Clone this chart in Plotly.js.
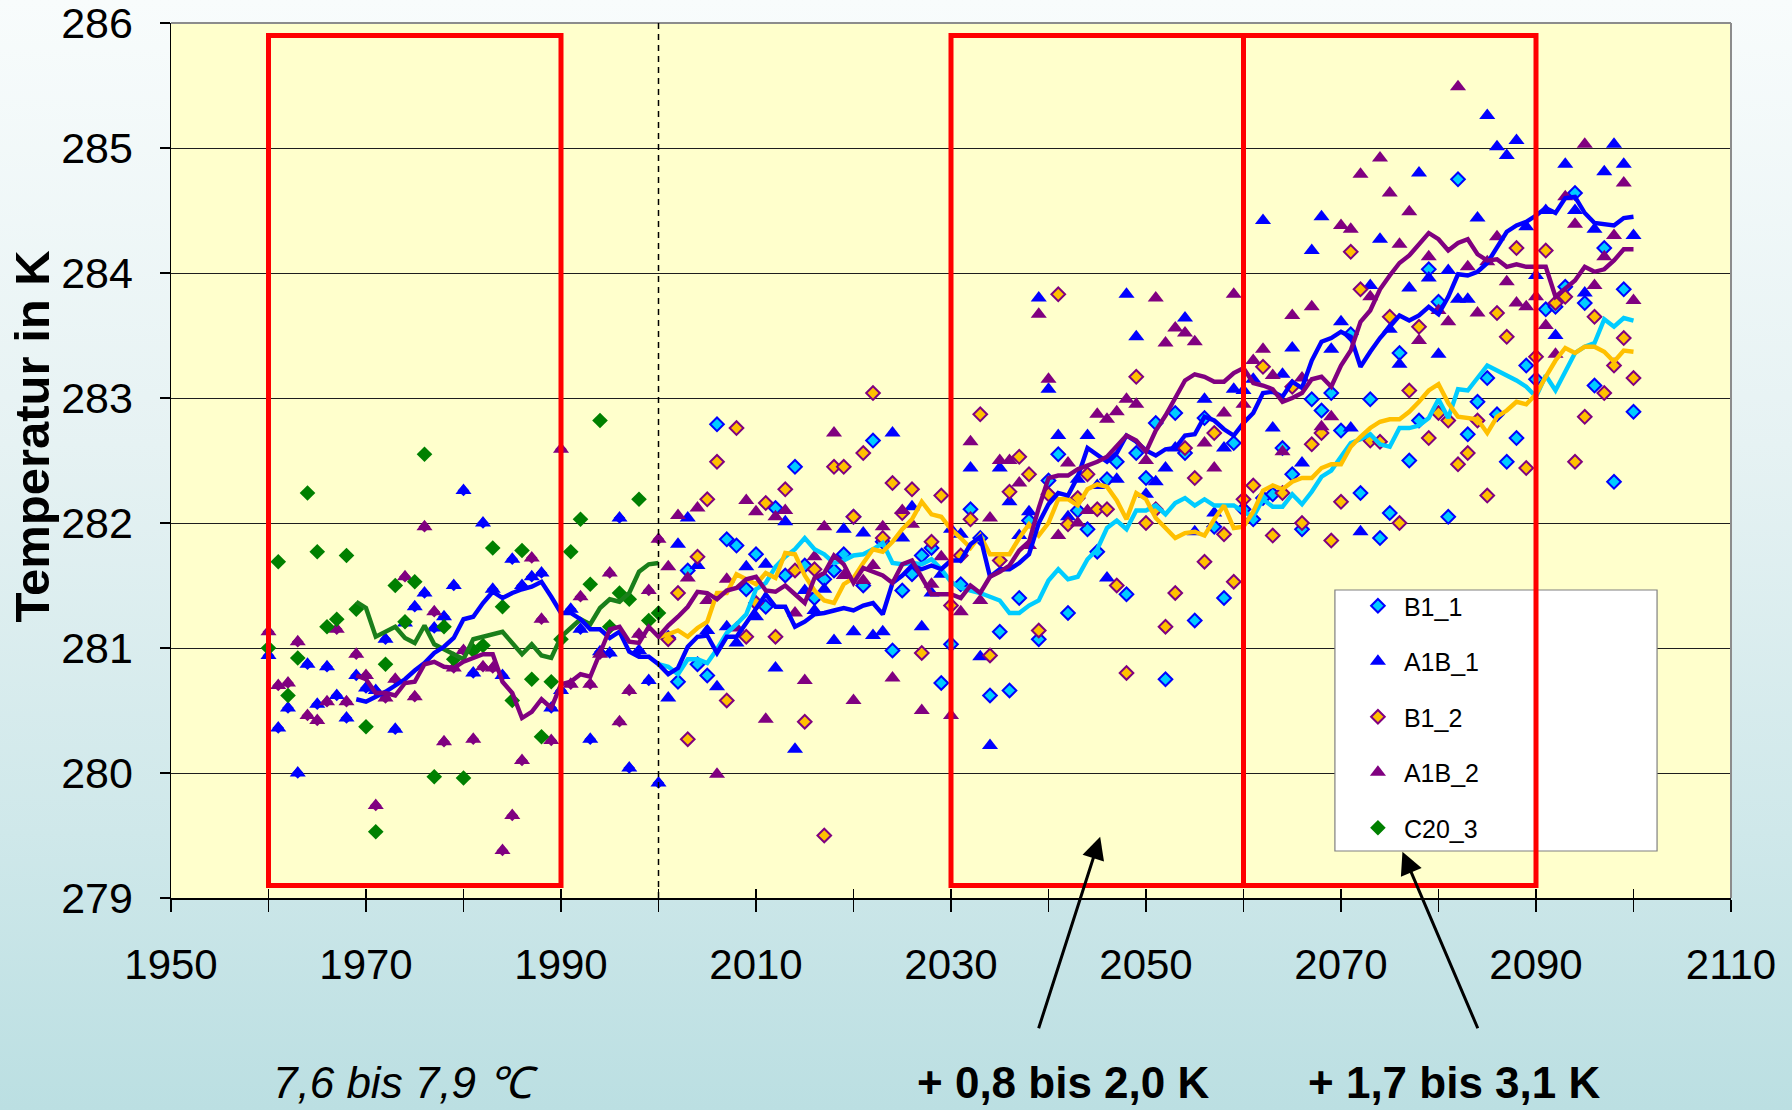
<!DOCTYPE html>
<html>
<head>
<meta charset="utf-8">
<script src="https://cdn.plot.ly/plotly-3.0.1.min.js"></script>
<style>
html,body{margin:0;padding:0;}
body{width:1792px;height:1110px;overflow:hidden;
background:linear-gradient(to bottom,#F8FCFC 0%,#E6F2F3 40%,#CFE8EA 75%,#BBDFE2 100%);}
#chart{width:1792px;height:1110px;}
</style>
</head>
<body>
<div id="chart"></div>
<script>
// ---------- data ----------
const startHist = 1960;   // first year of A1B_1 / A1B_2 / C20_3 markers
const startScen = 2001;   // first year of B1_1 / B1_2 markers
const startMeanA = 1969;  // first year of the A1B running means and C20_3 mean
const startMeanB = 2000;  // first year of the B1 running means

const c20_3 = [281.00,281.69,280.62,280.92,282.24,281.77,281.17,281.23,281.74,281.31,
280.37,279.53,280.87,281.50,281.21,281.53,282.55,279.97,281.17,280.91,
279.96,280.98,281.02,281.80,281.33,280.58,281.78,280.75,280.29,280.73,
281.07,281.77,282.03,281.51,282.82,281.17,281.44,281.39,282.19,281.22,281.28];

const c20_3_mean = [281.37,281.32,281.09,281.13,281.17,281.08,281.04,281.18,281.03,280.99,
280.95,280.91,281.07,281.09,281.11,281.13,281.04,280.95,281.03,280.94,
280.92,281.09,281.16,281.23,281.19,281.32,281.39,281.37,281.44,281.61,281.67,281.68];

const a1b_1 = [280.94,280.36,280.52,280.00,280.87,280.55,280.85,280.62,280.44,280.78,
280.68,280.66,281.07,280.35,281.20,281.33,281.44,281.16,281.25,281.50,
282.26,280.80,282.00,281.47,280.78,281.71,281.50,281.57,281.60,280.52,
280.66,281.31,281.15,280.27,280.97,280.96,282.04,280.04,280.98,280.74,
279.92,280.60,281.83,282.04,281.66,281.14,280.69,281.17,281.04,281.65,
281.25,281.67,280.84,282.01,280.19,281.46,281.30,281.47,281.06,281.95,
281.13,281.92,281.10,281.13,282.72,281.88,282.13,281.17,281.44,281.59,
281.95,281.91,282.44,280.93,280.22,282.44,282.17,281.90,282.09,283.80,
283.07,282.70,282.05,282.35,282.70,282.30,281.56,282.35,283.83,283.49,
282.23,282.33,282.44,282.60,283.64,281.93,282.99,282.08,282.60,283.07,
283.06,283.15,284.42,282.76,283.19,283.40,282.48,284.18,284.45,283.39,
283.61,282.76,281.93,283.90,284.27,283.55,283.27,283.88,284.80,283.96,
283.35,284.02,283.79,283.79,284.44,285.26,285.01,284.94,285.06,284.37,
283.98,284.50,283.50,284.87,284.50,283.84,284.35,284.81,285.03,284.87,284.30];

const a1b_2 = [281.13,280.70,280.72,281.05,280.46,280.42,280.57,281.15,280.57,280.95,
280.78,279.74,280.60,280.75,281.57,280.61,281.97,281.29,280.25,280.84,
280.98,280.27,280.85,280.84,279.38,279.66,280.10,281.72,281.23,280.26,
282.59,280.71,281.41,280.71,280.95,281.60,280.41,280.66,281.11,281.46,
281.87,281.65,282.06,281.56,282.12,281.38,279.99,281.55,281.16,282.18,
282.09,280.43,282.05,282.10,281.28,280.74,281.73,281.97,282.72,281.58,
280.58,281.54,281.66,281.97,280.76,282.10,281.99,280.50,281.51,281.73,
280.46,281.29,282.65,281.38,282.04,282.50,282.50,282.32,281.82,283.67,
283.15,281.90,282.48,282.00,282.10,282.87,282.83,282.89,282.99,282.95,
282.50,283.80,283.44,283.56,283.52,283.45,282.64,282.44,282.88,283.83,
282.95,283.30,283.39,283.18,282.57,283.66,283.16,283.73,282.77,282.85,
284.38,284.35,284.79,283.81,284.92,284.64,284.23,284.49,283.46,284.13,
283.70,283.61,285.49,284.05,283.68,284.09,284.29,283.93,283.76,283.73,
283.81,283.58,283.35,284.61,284.39,285.03,283.90,284.13,284.30,284.72,283.78];

const b1_1 = [281.08,280.73,281.62,280.87,280.78,282.79,281.87,281.82,281.47,281.75,
281.33,282.12,281.58,282.45,281.66,281.40,281.55,281.62,281.75,282.05,
281.50,282.66,281.85,280.98,281.46,281.59,281.74,281.80,280.72,281.03,
281.51,282.11,281.88,280.62,281.13,280.66,281.40,282.02,281.07,282.34,
282.55,281.28,282.10,281.95,281.77,282.35,282.49,281.43,282.56,282.36,
282.80,280.75,282.88,282.56,281.22,282.84,281.97,281.40,282.64,282.11,
282.03,282.20,282.23,282.60,282.39,281.95,282.99,282.90,283.04,282.74,
283.51,282.24,282.99,281.88,282.08,283.36,282.50,282.82,284.03,283.77,
282.05,284.75,282.71,282.97,283.16,282.87,282.49,282.68,283.26,283.15,
283.71,283.73,283.89,284.64,283.76,283.10,284.20,282.33,283.87,282.89];

const b1_2 = [281.07,281.44,280.27,281.73,282.19,282.49,280.58,282.76,281.09,281.36,
282.16,281.09,282.27,281.62,280.41,281.63,279.50,282.45,282.45,282.05,
282.56,283.04,281.88,282.32,282.08,282.27,280.96,281.85,282.22,281.34,
281.74,282.03,282.87,280.94,281.70,282.25,282.53,282.39,281.14,282.23,
283.83,281.99,282.20,282.39,282.11,282.11,281.50,280.80,283.17,282.00,
282.11,281.17,281.44,282.60,282.36,281.69,282.72,281.91,281.53,282.19,
282.30,283.25,281.90,282.24,283.09,282.00,282.63,282.72,281.86,282.17,
284.17,283.87,282.66,282.65,283.65,282.00,283.06,283.57,282.68,282.88,
282.82,282.47,282.56,282.82,282.22,283.68,283.49,284.20,282.44,283.33,
284.18,283.76,283.81,282.49,282.85,283.65,283.04,283.26,283.48,283.16];

const a1b_1_mean = [280.59,280.57,280.61,280.65,280.70,280.75,280.82,280.88,280.96,281.01,
281.08,281.23,281.25,281.36,281.45,281.40,281.44,281.47,281.49,281.53,
281.41,281.28,281.28,281.23,281.15,281.15,281.08,281.13,280.97,280.93,
280.93,280.87,280.79,280.84,281.01,281.09,281.10,280.96,281.09,281.09,
281.20,281.31,281.43,281.33,281.33,281.17,281.21,281.27,281.28,281.30,
281.32,281.30,281.34,281.36,281.27,281.52,281.58,281.66,281.63,281.66,
281.63,281.70,281.70,281.83,281.89,281.57,281.63,281.63,281.68,281.75,
282.00,282.15,282.24,282.22,282.37,282.60,282.55,282.49,282.56,282.70,
282.65,282.58,282.54,282.59,282.60,282.70,282.71,282.85,282.82,282.75,
282.70,282.80,282.88,283.04,283.05,283.01,283.13,283.08,283.30,283.45,
283.48,283.53,283.49,283.25,283.37,283.48,283.57,283.66,283.62,283.66,
283.73,283.67,283.81,283.99,283.98,284.01,284.08,284.20,284.33,284.38,
284.41,284.46,284.52,284.48,284.60,284.61,284.48,284.40,284.39,284.38,
284.44,284.45];

const a1b_2_mean = [280.78,280.75,280.64,280.64,280.62,280.72,280.73,280.87,280.89,280.85,
280.84,280.89,280.92,280.95,280.95,280.73,280.64,280.44,280.49,280.59,
280.52,280.71,280.73,280.79,280.77,280.96,281.15,281.17,281.05,281.04,
281.17,281.09,281.18,281.25,281.33,281.45,281.44,281.39,281.46,281.48,
281.55,281.57,281.46,281.45,281.50,281.43,281.36,281.56,281.60,281.74,
281.67,281.52,281.64,281.61,281.58,281.52,281.67,281.70,281.57,281.43,
281.43,281.43,281.40,281.50,281.44,281.57,281.61,281.66,281.78,281.85,
282.12,282.36,282.38,282.38,282.43,282.46,282.49,282.53,282.61,282.70,
282.66,282.57,282.74,282.86,283.00,283.14,283.19,283.17,283.13,283.13,
283.20,283.24,283.12,283.10,283.07,282.97,283.00,283.04,283.15,283.17,
283.09,283.26,283.38,283.61,283.70,283.87,283.98,284.08,284.14,284.23,
284.32,284.27,284.18,284.24,284.27,284.15,284.10,284.11,284.05,284.07,
284.05,284.05,284.05,283.81,283.87,283.94,284.05,284.01,284.03,284.10,
284.19,284.19];

const b1_1_mean = [280.87,
280.85,280.79,280.91,280.91,280.88,280.99,281.12,281.19,281.27,281.47,
281.52,281.65,281.73,281.79,281.88,281.79,281.75,281.68,281.70,281.74,
281.75,281.79,281.84,281.68,281.67,281.68,281.67,281.71,281.63,281.53,
281.48,281.46,281.44,281.41,281.38,281.28,281.28,281.34,281.38,281.54,
281.63,281.55,281.57,281.71,281.79,281.96,282.02,281.95,282.10,282.10,
282.14,282.07,282.16,282.20,282.14,282.19,282.14,282.14,282.14,282.09,
282.05,282.19,282.13,282.13,282.23,282.15,282.25,282.37,282.42,282.53,
282.64,282.67,282.71,282.63,282.61,282.76,282.76,282.78,282.84,282.99,
282.84,283.07,283.06,283.16,283.26,283.22,283.18,283.14,283.09,283.01,
283.18,283.06,283.21,283.36,283.41,283.44,283.63,283.57,283.64,283.62];

const b1_2_mean = [281.09,
281.11,281.14,281.09,281.16,281.21,281.44,281.44,281.59,281.55,281.51,
281.60,281.56,281.76,281.75,281.58,281.46,281.38,281.36,281.51,281.56,
281.68,281.79,281.77,281.85,281.95,282.03,282.17,282.07,282.05,281.95,
281.88,281.80,281.90,281.75,281.75,281.75,281.88,281.99,281.90,282.00,
282.19,282.19,282.14,282.27,282.31,282.29,282.18,282.03,282.24,282.19,
282.04,281.96,281.88,281.92,281.93,281.90,282.03,282.14,281.96,281.97,
282.09,282.26,282.30,282.27,282.33,282.36,282.36,282.44,282.47,282.47,
282.61,282.69,282.76,282.81,282.83,282.83,282.89,282.97,283.06,283.11,
282.96,282.85,282.84,282.83,282.72,282.85,282.90,282.97,282.95,283.03,
283.17,283.30,283.40,283.36,283.41,283.41,283.37,283.29,283.38,283.37];

const seriesNames = ['B1_1','A1B_1','B1_2','A1B_2','C20_3'];
const xTickVals = [1950,1960,1970,1980,1990,2000,2010,2020,2030,2040,2050,2060,2070,2080,2090,2100,2110];
const xTickText = ['1950','','1970','','1990','','2010','','2030','','2050','','2070','','2090','','2110'];
const yTickVals = [279,280,281,282,283,284,285,286];
const periods = [[1960,1990],[2030,2060],[2060,2090]];
const periodLabels = ['<i>7,6 bis 7,9 \u2103</i>','<b>+ 0,8 bis 2,0 K</b>','<b>+ 1,7 bis 3,1 K</b>'];
const yTitle = 'Temperatur in K';

// ---------- build ----------
function span(first, count){ const a=[]; for(let i=0;i<count;i++) a.push(first+i); return a; }
const yrsA = span(startHist, a1b_1.length);
const yrsB = span(startScen, b1_1.length);
const yrsC = span(startHist, c20_3.length);
const yrsAm = span(startMeanA, a1b_1_mean.length);
const yrsBm = span(startMeanB, b1_1_mean.length);
const yrsCm = span(startMeanA, c20_3_mean.length);
const nHist = c20_3.length;

const FONT = 'Liberation Sans, Arial, Helvetica, sans-serif';
const BLUE='#0000FF', PURPLE='#800080', CYAN='#00CCFF', GOLD='#FFC000', GREEN='#008000';
const LW = 4.4;

const traces = [
  // stacked markers of the shared 20th-century runs (house look)
  {x: yrsA.slice(0,nHist), y: a1b_1.slice(0,nHist), mode:'markers', showlegend:false,
   marker:{symbol:'diamond', size:9, color:BLUE}},
  {x: yrsA.slice(0,nHist), y: a1b_2.slice(0,nHist), mode:'markers', showlegend:false,
   marker:{symbol:'diamond', size:9, color:PURPLE}},
  {x: yrsB, y: b1_1, name: seriesNames[0], mode:'markers', legendgroup:'g1',
   marker:{symbol:'diamond', size:10.5, color:CYAN, line:{color:BLUE, width:2}}},
  {x: yrsA, y: a1b_1, name: seriesNames[1], mode:'markers', legendgroup:'g2',
   marker:{symbol:'triangle-up', size:14, color:BLUE}},
  {x: yrsB, y: b1_2, name: seriesNames[2], mode:'markers', legendgroup:'g3',
   marker:{symbol:'diamond', size:10.5, color:GOLD, line:{color:PURPLE, width:2}}},
  {x: yrsA, y: a1b_2, name: seriesNames[3], mode:'markers', legendgroup:'g4',
   marker:{symbol:'triangle-up', size:14, color:PURPLE}},
  {x: yrsC, y: c20_3, name: seriesNames[4], mode:'markers', legendgroup:'g5',
   marker:{symbol:'diamond', size:12, color:GREEN}},
  // running means
  {x: yrsBm, y: b1_1_mean, mode:'lines', showlegend:false, line:{color:CYAN, width:LW}},
  {x: yrsBm, y: b1_2_mean, mode:'lines', showlegend:false, line:{color:GOLD, width:LW}},
  {x: yrsCm, y: c20_3_mean, mode:'lines', showlegend:false, line:{color:'#1A7F1A', width:LW}},
  {x: yrsAm, y: a1b_1_mean, mode:'lines', showlegend:false, line:{color:BLUE, width:LW}},
  {x: yrsAm, y: a1b_2_mean, mode:'lines', showlegend:false, line:{color:PURPLE, width:LW}},
  // carrier for the inner half of the x ticks
  {x:[], y:[], xaxis:'x2', mode:'markers', showlegend:false, hoverinfo:'skip'}
];

const shapes = [
  {type:'line', xref:'paper', yref:'paper', x0:0, x1:1, y0:1, y1:1, line:{color:'#8C8C8C', width:2}, layer:'above'},
  {type:'line', xref:'paper', yref:'paper', x0:1, x1:1, y0:0, y1:1, line:{color:'#8C8C8C', width:2}, layer:'above'},
  {type:'line', xref:'x', yref:'paper', x0:2000, x1:2000, y0:0, y1:1, line:{color:'#000', width:1.5, dash:'6px,5px'}, layer:'above'},
  // legend box
  {type:'rect', xref:'paper', yref:'paper', x0:0.7461, x1:0.9526, y0:0.0537, y1:0.352,
   fillcolor:'#FFFFFF', line:{color:'#808080', width:1.2}, layer:'above'}
];
periods.forEach(p => shapes.push({type:'rect', xref:'x', yref:'y', x0:p[0], x1:p[1], y0:279.1, y1:285.9,
  line:{color:'#FF0000', width:5}, fillcolor:'rgba(0,0,0,0)', layer:'above'}));

const annotations = [
  {xref:'paper', yref:'paper', x:-0.0894, y:0.527, text:'<b>'+yTitle+'</b>', textangle:-90,
   showarrow:false, font:{family:FONT, size:49, color:'#000'}, xanchor:'center', yanchor:'middle'},
  {xref:'x', yref:'y', x:2045.3, y:279.49, ax:-62, ay:193, text:'', showarrow:true,
   arrowhead:2, arrowsize:1.5, arrowwidth:3, arrowcolor:'#000'},
  {xref:'x', yref:'y', x:2076.3, y:279.37, ax:76, ay:178, text:'', showarrow:true,
   arrowhead:2, arrowsize:1.5, arrowwidth:3, arrowcolor:'#000'}
];
const labelX = [0.1504, 0.5717, 0.8223];
periodLabels.forEach((t,i) => annotations.push({xref:'paper', yref:'paper', x:labelX[i], y:-0.2114,
  text:t, showarrow:false, xanchor:'center', yanchor:'middle', font:{family:FONT, size:44, color:'#000'}}));

const layout = {
  width:1792, height:1110,
  margin:{l:171, r:61, t:23, b:212, pad:0},
  paper_bgcolor:'rgba(0,0,0,0)', plot_bgcolor:'#FFFFCC',
  font:{family:FONT, color:'#000'},
  showlegend:true,
  xaxis:{range:[1950,2110], tickvals:xTickVals, ticktext:xTickText, ticks:'outside', ticklen:12,
    tickwidth:1.5, tickcolor:'#000', showgrid:false, zeroline:false, showline:true, linecolor:'#000',
    linewidth:1.5, tickfont:{size:42, family:FONT}, ticklabelstandoff:17, fixedrange:true},
  xaxis2:{overlaying:'x', anchor:'y', side:'bottom', range:[1950,2110], tickvals:xTickVals,
    ticks:'inside', ticklen:9, tickwidth:1.5, tickcolor:'#000', showticklabels:false,
    showgrid:false, zeroline:false, showline:false},
  yaxis:{range:[279,286.0001], tickvals:yTickVals, ticks:'outside', ticklen:10, tickwidth:1.5, tickcolor:'#000',
    showgrid:true, gridcolor:'#1E1E1E', gridwidth:1, zeroline:false, showline:true, linecolor:'#000',
    linewidth:1.5, tickfont:{size:43, family:FONT}, ticklabelstandoff:18, ticklabeloverflow:'allow',
    fixedrange:true},
  legend:{x:0.757, y:0.360, xanchor:'left', yanchor:'top', bgcolor:'rgba(0,0,0,0)', borderwidth:0,
    font:{size:25, family:FONT, color:'#000'}, traceorder:'grouped', tracegroupgap:20, itemwidth:42},
  shapes:shapes,
  annotations:annotations
};

Plotly.newPlot('chart', traces, layout, {staticPlot:true, displayModeBar:false});
</script>
</body>
</html>
